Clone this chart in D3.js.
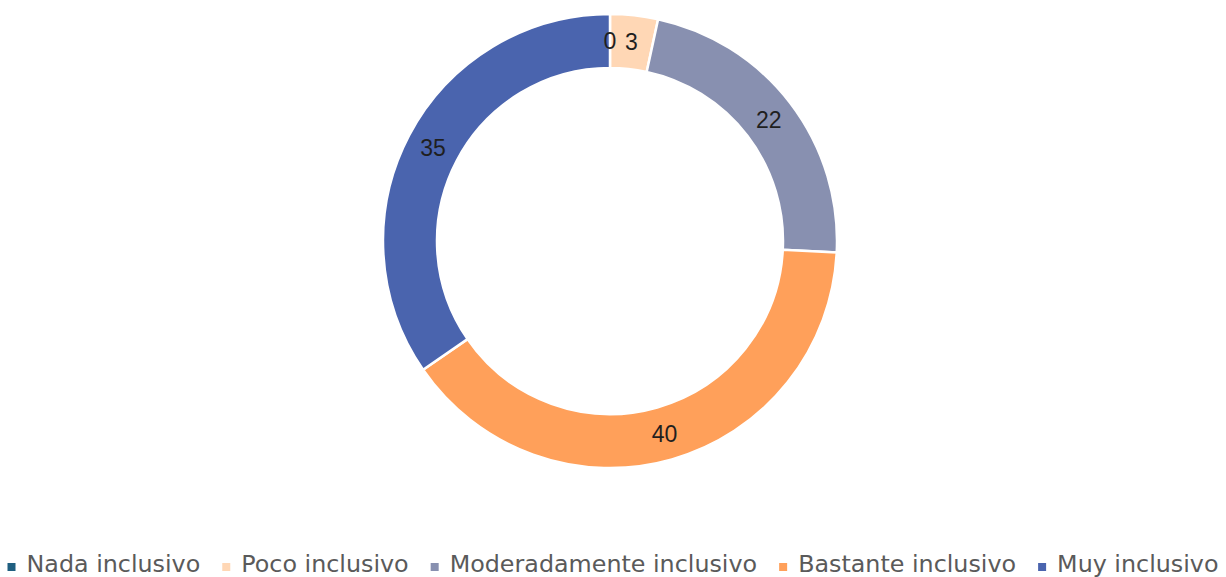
<!DOCTYPE html>
<html><head><meta charset="utf-8">
<script src="https://cdn.jsdelivr.net/npm/d3@7"></script>
<style>body{margin:0;background:#fff}svg{display:block}</style>
</head><body>
<svg id="chart" width="1226" height="577"></svg>
<script>
const categories = ["Nada inclusivo","Poco inclusivo","Moderadamente inclusivo","Bastante inclusivo","Muy inclusivo"];
// values; labels shown rounded as in the reference
const values = [0, 3.4, 22.4, 39.6, 34.6];
const colors = ["#1f5f80","#ffd7b5","#8890b0","#ffa05a","#4a64ae"];

const svg = d3.select("#chart");
const cx = 610, cy = 241, outerR = 227, innerR = 173;
const g = svg.append("g").attr("transform",`translate(${cx},${cy})`);
const data = categories.map((c,i)=>({c, v:values[i], col:colors[i]}));
const pie = d3.pie().value(d=>d.v).sort(null);
const arc = d3.arc().innerRadius(innerR).outerRadius(outerR);
const labelArc = d3.arc().innerRadius(200).outerRadius(200);
const arcs = pie(data);
g.selectAll("path").data(arcs).join("path")
  .attr("d",arc).attr("fill",d=>d.data.col)
  .attr("stroke","#fff").attr("stroke-width",2.5);
g.selectAll("text").data(arcs).join("text")
  .attr("transform",d=>`translate(${labelArc.centroid(d)})`)
  .attr("text-anchor","middle").attr("dy","0.36em")
  .attr("font-family","Liberation Sans, Arial, sans-serif")
  .attr("font-size",23).attr("fill","#1f1f1f")
  .text(d=>d3.format(".0f")(d.data.v));

// legend
const lg = svg.append("g");
let x = 0;
const gap = 22;
data.forEach((d,i)=>{
  const it = lg.append("g");
  it.append("rect").attr("x",0).attr("y",-9).attr("width",8).attr("height",8).attr("fill",d.col);
  const t = it.append("text").attr("x",19).attr("y",0)
    .attr("font-family","DejaVu Sans, sans-serif").attr("font-size",23.8).attr("fill","#5a5a5a").text(d.c);
  const w = 19 + t.node().getComputedTextLength();
  it.attr("transform",`translate(${x},572)`);
  x += w + gap;
});
const total = x - gap;
lg.attr("transform",`translate(${(1226-total)/2},0)`);
</script>
</body></html>
